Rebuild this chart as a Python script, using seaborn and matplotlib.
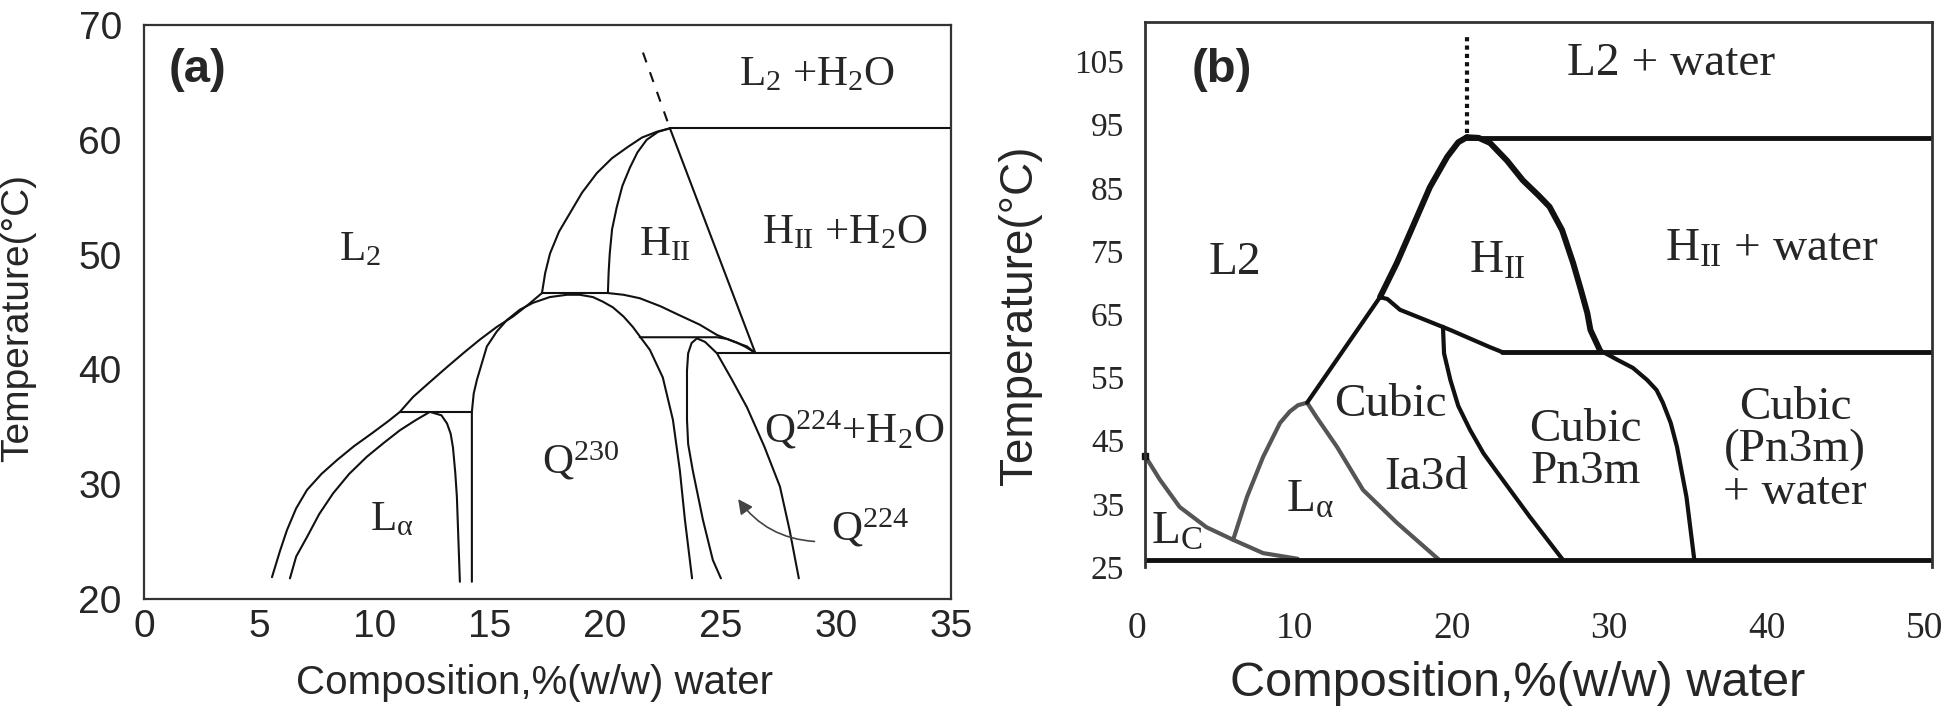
import matplotlib.pyplot as plt
import matplotlib.transforms as mtransforms
import seaborn as sns

# ---------------- panel (a) boundaries: x = % (w/w) water, y = temperature (C)
a_l2_x = [5.55, 5.9, 6.2, 6.6, 7.07, 7.7, 8.37, 9.1, 9.93, 10.6, 11.1, 11.67, 12.4, 13.14,
          13.9, 14.57, 15.3, 16.0, 16.7, 17.26]
a_l2_y = [21.9, 24.2, 26.0, 27.9, 29.5, 30.9, 32.1, 33.3, 34.5, 35.5, 36.3, 37.6, 38.9, 40.2,
          41.5, 42.6, 43.7, 44.6, 45.7, 46.65]
a_la_x = [6.33, 6.6, 7.07, 7.6, 8.2, 8.9, 9.67, 10.4, 11.1, 11.8, 12.4, 12.9, 13.14, 13.3,
          13.4, 13.5, 13.57, 13.7]
a_la_y = [21.8, 23.7, 25.4, 27.4, 29.2, 30.9, 32.4, 33.6, 34.7, 35.6, 36.3, 36.0, 35.3, 34.4,
          33.2, 31.0, 28.9, 21.5]
a_tie1_x = [11.1, 14.22]
a_tie1_y = [36.3, 36.3]
a_q230_x = [14.22, 14.22, 14.3, 14.44, 14.87, 15.3, 15.74, 16.3, 16.87, 17.6, 18.34, 18.9,
            19.47, 19.9, 20.34, 20.8, 21.2, 21.94, 22.5, 22.94, 23.24, 23.46, 23.77]
a_q230_y = [21.5, 36.3, 37.9, 39.1, 42.0, 43.3, 44.3, 45.2, 45.8, 46.3, 46.5, 46.5,
            46.3, 45.9, 45.4, 44.6, 43.7, 41.7, 39.3, 35.6, 31.2, 26.9, 21.8]
a_tie2_x = [17.26, 20.12]
a_tie2_y = [46.65, 46.65]
a_hii_out_x = [17.26, 17.4, 17.61, 18.0, 18.47, 19.0, 19.64, 20.3, 21.0, 21.6, 22.24, 22.81]
a_hii_out_y = [46.65, 48.4, 50.1, 52.0, 53.6, 55.4, 57.1, 58.4, 59.4, 60.2, 60.7, 61.0]
a_hii_in_x = [20.12, 20.15, 20.2, 20.3, 20.5, 20.75, 21.08, 21.4, 21.8, 22.3, 22.81]
a_hii_in_y = [46.65, 48.4, 50.1, 52.2, 54.1, 56.0, 57.6, 58.9, 60.0, 60.7, 61.0]
a_hii_right_x = [22.81, 26.5]
a_hii_right_y = [61.0, 41.5]
a_dash_x = [21.64, 22.81]
a_dash_y = [67.6, 61.0]
a_top_x = [22.81, 35]
a_top_y = [61.0, 61.0]
a_low_x = [24.85, 35]
a_low_y = [41.45, 41.45]
a_upper_x = [20.12, 20.8, 21.5, 22.4, 23.24, 24.1, 24.85, 25.6, 26.15, 26.5]
a_upper_y = [46.65, 46.5, 46.2, 45.5, 44.7, 43.9, 43.0, 42.4, 42.0, 41.45]
a_lower_x = [21.5, 24.85, 25.3, 25.7, 26.1, 26.5]
a_lower_y = [42.8, 42.8, 42.65, 42.35, 41.95, 41.45]
a_q224_x = [25.02, 24.67, 24.24, 23.8, 23.6, 23.55, 23.55, 23.6, 23.75, 23.98, 24.33,
            24.85, 25.5, 26.15, 26.9, 27.58, 28.0, 28.4]
a_q224_y = [21.8, 23.4, 26.9, 31.2, 33.5, 35.6, 39.9, 41.4, 42.3, 42.7, 42.4,
            41.4, 39.1, 36.7, 33.3, 29.8, 26.0, 21.8]

a_curves = [(a_l2_x, a_l2_y), (a_la_x, a_la_y), (a_tie1_x, a_tie1_y),
            (a_q230_x, a_q230_y), (a_tie2_x, a_tie2_y), (a_hii_out_x, a_hii_out_y),
            (a_hii_in_x, a_hii_in_y), (a_hii_right_x, a_hii_right_y),
            (a_top_x, a_top_y), (a_low_x, a_low_y), (a_upper_x, a_upper_y),
            (a_lower_x, a_lower_y), (a_q224_x, a_q224_y)]

# ---------------- panel (b) boundaries
b_lc_x = [0, 0.95, 2.2, 3.9, 5.6, 7.5, 9.7]
b_lc_y = [42.6, 38.8, 34.5, 31.3, 29.3, 27.2, 26.3]
b_la_left_x = [5.6, 6.48, 7.5, 8.58, 9.2, 9.72, 10.3]
b_la_left_y = [29.3, 36.1, 42.4, 47.8, 49.6, 50.6, 51.0]
b_la_right_x = [10.3, 10.9, 12.2, 13.85, 16.0, 18.7]
b_la_right_y = [51.0, 48.7, 44.0, 37.2, 32.0, 26.1]
b_l2_cub_x = [10.3, 14.93]
b_l2_cub_y = [51.0, 67.7]
b_hii_left_x = [14.93, 16.0, 17.0, 18.1, 19.2, 19.9, 20.45]
b_hii_left_y = [67.7, 73.1, 78.8, 85.1, 89.9, 92.2, 93.0]
b_hii_right_x = [20.45, 21.2, 21.92, 23.0, 24.0, 25.0, 25.7, 26.5, 27.2, 27.7, 28.1, 28.3, 28.9]
b_hii_right_y = [93.0, 92.9, 92.1, 89.3, 86.2, 83.8, 82.0, 78.3, 73.1, 68.8, 65.2, 62.5, 59.3]
b_pn3m_right_x = [28.9, 30.0, 31.0, 31.9, 32.5, 32.9, 33.4, 33.8, 34.4, 34.9]
b_pn3m_right_y = [59.3, 57.8, 56.5, 54.6, 53.0, 51.0, 47.8, 44.0, 36.1, 26.1]
b_cub_top_x = [14.93, 15.4, 16.2, 19.4, 21.9, 22.7]
b_cub_top_y = [67.7, 67.4, 65.7, 62.5, 59.8, 59.0]
b_ia3d_x = [18.93, 19.0, 19.4, 19.9, 20.65, 21.5, 22.4, 24.46, 26.56]
b_ia3d_y = [63.0, 58.8, 54.6, 50.5, 46.7, 43.0, 39.9, 32.9, 26.1]
b_h59_x = [22.7, 50]
b_h59_y = [59.0, 59.0]
b_h93_x = [20.45, 50]
b_h93_y = [92.9, 92.9]
b_dot_x = [20.45, 20.45]
b_dot_y = [93.7, 109.5]
b_base_x = [0, 50]
b_base_y = [26.1, 26.1]

a_xticks = [0, 5, 10, 15, 20, 25, 30, 35]
a_yticks = [20, 30, 40, 50, 60, 70]
b_xticks = [0, 10, 20, 30, 40, 50]
b_yticks = [25, 35, 45, 55, 65, 75, 85, 95, 105]

sns.set_style("white")
plt.rcParams['font.family'] = ['Liberation Sans', 'DejaVu Sans']
plt.rcParams['mathtext.fontset'] = 'custom'
plt.rcParams['mathtext.rm'] = 'Liberation Serif'
plt.rcParams['mathtext.it'] = 'Liberation Serif'
plt.rcParams['mathtext.bf'] = 'Liberation Serif:bold'

fig = plt.figure(figsize=(19.46, 7.12), dpi=100)
ax1 = fig.add_axes([144/1946, 1-599/712, 807/1946, 574/712])
ax2 = fig.add_axes([1145/1946, 1-567/712, 787/1946, 545/712])


def curve(ax, xs, ys, color='#111111', lw=1.5, **kw):
    sns.lineplot(x=xs, y=ys, sort=False, estimator=None, ax=ax, color=color,
                 linewidth=lw, legend=False, **kw)


# ---- panel (a)
for xs, ys in a_curves:
    curve(ax1, xs, ys)
curve(ax1, a_dash_x, a_dash_y, linestyle=(0, (5, 5)))
ax1.annotate('', xy=(25.7, 28.9), xytext=(29.2, 25.0),
             arrowprops=dict(arrowstyle='-|>', color='#444444', lw=1.2,
                             mutation_scale=22, connectionstyle='arc3,rad=-0.25'))

ax1.set_xlim(0, 35)
ax1.set_ylim(20, 70)
ax1.set_xticks(a_xticks)
ax1.set_yticks(a_yticks)
ax1.tick_params(direction='in', length=13, width=1.5, labelsize=28, color='#222222')
ax1.tick_params(axis='y', pad=16)
ax1.tick_params(axis='x', pad=7)
for s in ax1.spines.values():
    s.set_linewidth(1.6)
    s.set_color('#333333')
ax1.set_xlabel('Composition,%(w/w) water', fontsize=29, va='center')
ax1.xaxis.set_label_coords(0.4845, -0.146)
ax1.set_ylabel('Temperature(°C)', fontsize=28, va='center', ha='center')
ax1.yaxis.set_label_coords(-0.156, 0.49)

serif = 'Liberation Serif'
ax1.text(0.0657, 0.9216, '(a)', transform=ax1.transAxes, fontsize=34,
         fontweight='bold', ha='center', va='center')
a_fs = 31
ax1.text(9.36, 50.4, 'L$_2$', fontsize=a_fs, family=serif, ha='center', va='center')
ax1.text(29.2, 65.6, 'L$_2$ +H$_2$O', fontsize=a_fs, family=serif, ha='center', va='center')
ax1.text(22.6, 50.8, 'H$_{II}$', fontsize=a_fs, family=serif, ha='center', va='center')
ax1.text(30.4, 51.9, 'H$_{II}$ +H$_2$O', fontsize=a_fs, family=serif, ha='center', va='center')
ax1.text(18.95, 32.0, 'Q$^{230}$', fontsize=a_fs, family=serif, ha='center', va='center')
ax1.text(30.8, 34.7, 'Q$^{224}$+H$_2$O', fontsize=a_fs, family=serif, ha='center', va='center')
ax1.text(31.5, 26.2, 'Q$^{224}$', fontsize=a_fs, family=serif, ha='center', va='center')
ax1.text(10.75, 26.9, 'L$_{\\alpha}$', fontsize=a_fs, family=serif, ha='center', va='center')

# ---- panel (b)
gray = '#555555'
curve(ax2, b_lc_x, b_lc_y, color=gray, lw=3)
curve(ax2, b_la_left_x, b_la_left_y, color=gray, lw=3)
curve(ax2, b_la_right_x, b_la_right_y, color=gray, lw=3)
curve(ax2, b_l2_cub_x, b_l2_cub_y, lw=3)
curve(ax2, b_hii_left_x, b_hii_left_y, lw=4.3)
curve(ax2, b_hii_right_x, b_hii_right_y, lw=4.3)
curve(ax2, b_pn3m_right_x, b_pn3m_right_y, lw=3)
curve(ax2, b_cub_top_x, b_cub_top_y, lw=3)
curve(ax2, b_ia3d_x, b_ia3d_y, lw=3)
curve(ax2, b_h59_x, b_h59_y, lw=3.5)
curve(ax2, b_h93_x, b_h93_y, lw=3.5)
curve(ax2, b_base_x, b_base_y, lw=3.5)
curve(ax2, b_dot_x, b_dot_y, lw=3, linestyle=(0, (1, 1)))
ax2.plot([0], [b_lc_y[0]], marker='s', ms=5, color='#111111', clip_on=False)

ax2.set_xlim(0, 50)
ax2.set_ylim(25, 25 + 545/6.32)
ax2.set_xticks(b_xticks)
ax2.set_yticks(b_yticks)
ax2.spines['bottom'].set_visible(False)
for s in ['left', 'top', 'right']:
    ax2.spines[s].set_linewidth(2)
    ax2.spines[s].set_color('#333333')
ax2.tick_params(direction='out', width=2.2, color='#222222')
ax2.tick_params(axis='y', length=7, pad=8, labelsize=24)
ax2.tick_params(axis='x', length=10, pad=22, labelsize=27)
shift = mtransforms.ScaledTranslation(-8/100, 0, fig.dpi_scale_trans)
for lab in ax2.get_xticklabels():
    lab.set_fontfamily(serif)
    lab.set_transform(lab.get_transform() + shift)
for lab in ax2.get_yticklabels():
    lab.set_fontfamily(serif)
ax2.set_xlabel('Composition,%(w/w) water', fontsize=35, va='center')
ax2.xaxis.set_label_coords(0.474, -0.213)
ax2.set_ylabel('Temperature(°C)', fontsize=33, va='center', ha='center')
ax2.yaxis.set_label_coords(-0.159, 0.462)

ax2.text(0.0978, 0.912, '(b)', transform=ax2.transAxes, fontsize=34,
         fontweight='bold', ha='center', va='center')
b_fs = 34
ax2.text(33.4, 104.7, 'L2 + water', fontsize=b_fs, family=serif, ha='center', va='center')
ax2.text(39.8, 75.2, 'H$_{II}$ + water', fontsize=b_fs, family=serif, ha='center', va='center')
ax2.text(5.7, 73.1, 'L2', fontsize=b_fs, family=serif, ha='center', va='center')
ax2.text(22.4, 73.3, 'H$_{II}$', fontsize=b_fs, family=serif, ha='center', va='center')
ax2.text(15.6, 50.6, 'Cubic', fontsize=b_fs, family=serif, ha='center', va='center')
ax2.text(17.9, 39.1, 'Ia3d', fontsize=b_fs, family=serif, ha='center', va='center')
ax2.text(28.0, 43.4, 'Cubic\nPn3m', fontsize=b_fs, family=serif, ha='center',
         va='center', linespacing=1.0)
ax2.text(41.3, 43.5, 'Cubic\n(Pn3m)\n+ water', fontsize=b_fs, family=serif,
         ha='center', va='center', linespacing=1.0)
ax2.text(2.0, 30.5, 'L$_C$', fontsize=b_fs, family=serif, ha='center', va='center')
ax2.text(10.5, 35.6, 'L$_{\\alpha}$', fontsize=b_fs, family=serif, ha='center', va='center')

fig.savefig('out.png', dpi=100)
